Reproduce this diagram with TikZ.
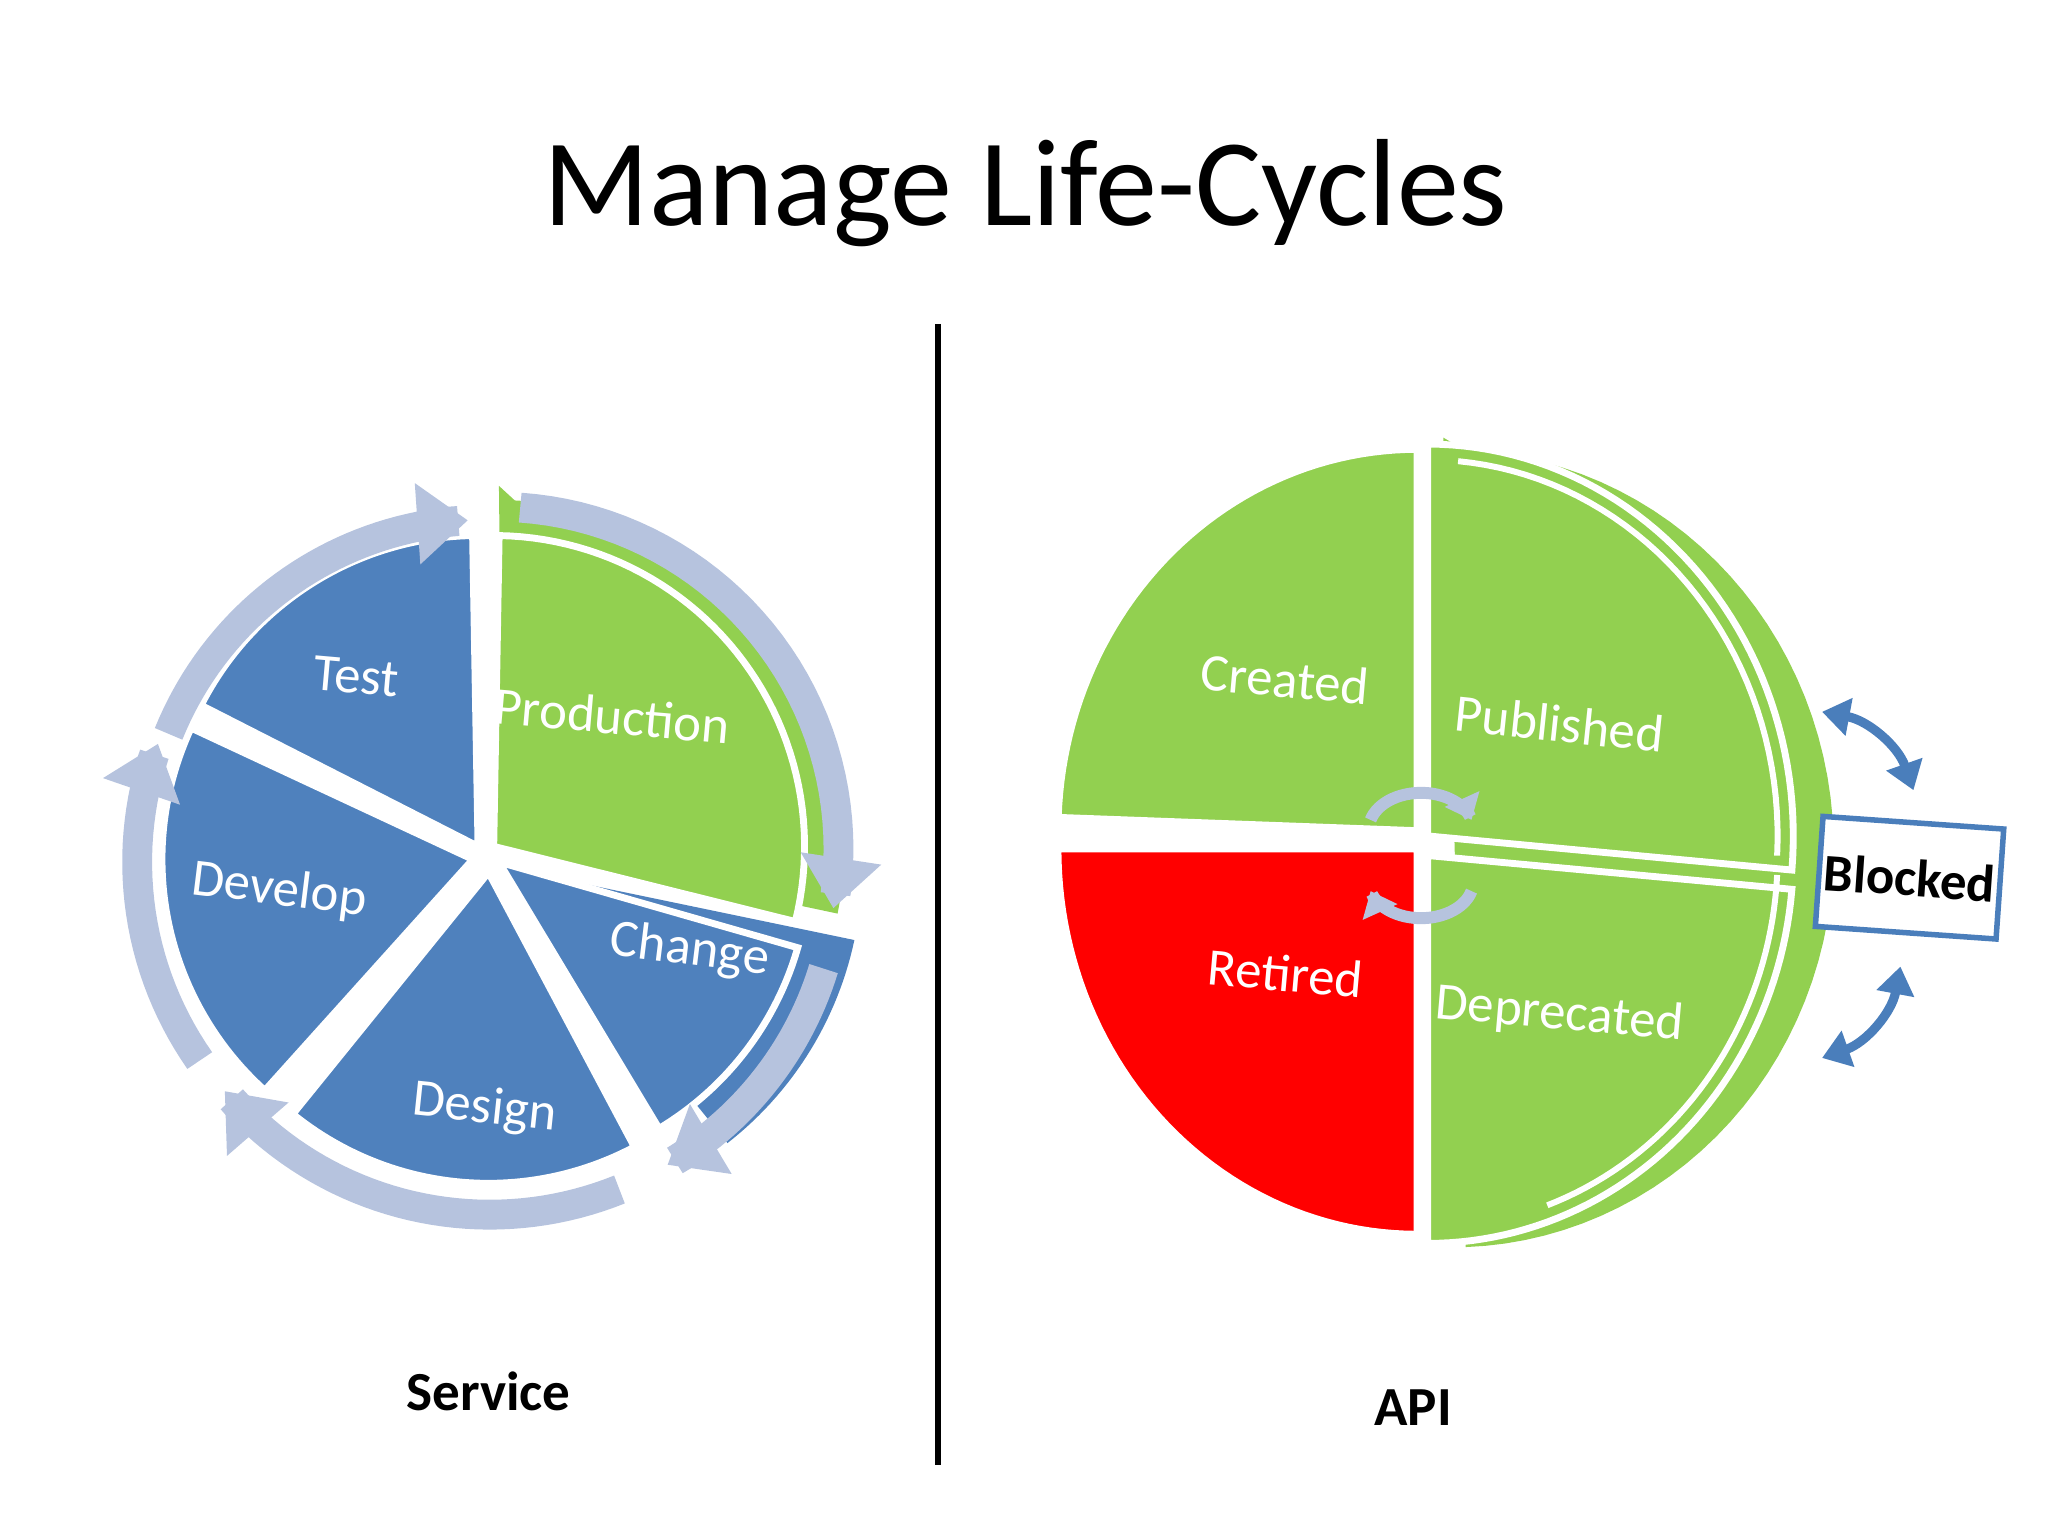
\documentclass[tikz,border=0pt]{standalone}
\usepackage{fontspec}
\setmainfont{Carlito}
\usetikzlibrary{arrows.meta}
\definecolor{sblue}{HTML}{4F81BD}
\definecolor{sgreen}{HTML}{92D050}
\definecolor{sring}{HTML}{B6C3DE}
\definecolor{dblue}{HTML}{4A7EBB}
\tikzset{
  lab/.style={text=white,font=\fontsize{11.5}{13}\selectfont},
  ring/.style={sring,line width=6.5pt,-{Triangle[length=11pt,width=17pt]}},
  small/.style={sring,line width=2.6pt,-{Triangle[length=5pt,width=8pt]}},
  blk/.style={dblue,line width=2pt,{Triangle[length=6pt,width=8pt]}-{Triangle[length=6pt,width=8pt]}},
}
\newcommand{\wedgeS}[6]{% color, cx, cy, r, a1, a2
  \fill[#1,draw=white,line width=1.5pt] (#2,#3) -- plot[domain=#5:#6,samples=50] ({#2+#4*cos(\x)},{#3-#4*sin(\x)}) -- cycle;}
\newcommand{\wedgeE}[7]{% color, cx, cy, rx, ry, a1, a2
  \fill[#1,draw=white,line width=1.5pt] (#2,#3) -- plot[domain=#6:#7,samples=50] ({#2+#4*cos(\x)},{#3-#5*sin(\x)}) -- cycle;}
\begin{document}
\begin{tikzpicture}[x=0.01cm,y=-0.01cm]
\useasboundingbox (0,0) rectangle (1568,1176);
\node (title) at (785,148) {\fontsize{27}{32}\selectfont Manage Life-Cycles};
\draw[line width=1.2pt] (718,248) -- (718,1122);
% ---- Service ----
\fill[sgreen] (382,372) -- plot[domain=88:-12,samples=40] ({385+262*cos(\x)},{645-262*sin(\x)}) -- (385,645) -- cycle;
\fill[sblue] (386,664) -- plot[domain=-12:-52,samples=30] ({392+268*cos(\x)},{664-268*sin(\x)}) -- cycle;
\wedgeS{sgreen}{378}{648}{238}{-14}{89}
\wedgeS{sblue}{366}{648}{238}{91}{153}
\wedgeS{sblue}{362}{658}{238}{155}{228}
\wedgeS{sblue}{374}{668}{238}{231}{298}
\wedgeS{sblue}{382}{660}{238}{301}{344}
\draw[ring] plot[domain=158:93,samples=40] ({372+262*cos(\x)},{660-262*sin(\x)});
\draw[ring] plot[domain=86:-10,samples=40] ({380+262*cos(\x)},{650-262*sin(\x)});
\draw[ring] plot[domain=-17:-60,samples=30] ({380+262*cos(\x)},{665-262*sin(\x)});
\draw[ring] plot[domain=-68:-140,samples=40] ({375+265*cos(\x)},{665-265*sin(\x)});
\draw[ring] plot[domain=-145:-200,samples=30] ({370+265*cos(\x)},{660-265*sin(\x)});
\node[lab,rotate=-5] (test) at (273,518) {Test};
\node[lab,rotate=-5] (prod) at (469,548) {Production};
\node[lab,rotate=-7] (dev) at (214,682) {Develop};
\node[lab,rotate=-7] (chg) at (528,728) {Change};
\node[lab,rotate=-6] (des) at (371,849) {Design};
\node[font=\bfseries\fontsize{12}{14}\selectfont] (svc) at (374,1065) {Service};
% ---- API ----
\fill[sgreen] (1105,335) -- plot[domain=88:-88,samples=60] ({1112+292*cos(\x)},{650-305*sin(\x)}) -- cycle;
\wedgeE{sgreen}{1085}{636}{275}{292}{90}{178}
\wedgeE{sgreen}{1093}{640}{280}{300}{-5}{90}
\wedgeE{red}{1085}{650}{275}{295}{180}{270}
\wedgeE{sgreen}{1093}{655}{280}{297}{270}{355}
\draw[white,line width=1.3pt] plot[domain=85:-3,samples=40] ({1093+268*cos(\x)},{640-288*sin(\x)});
\draw[white,line width=1.3pt] plot[domain=-3:-70,samples=40] ({1093+268*cos(\x)},{655-285*sin(\x)});
\draw[small] plot[domain=165:15,samples=30] ({1088+40*cos(\x)},{635-28*sin(\x)});
\draw[small] plot[domain=-15:-165,samples=30] ({1088+40*cos(\x)},{675-28*sin(\x)});
\node[lab,rotate=-5] (cre) at (984,520) {Created};
\node[lab,rotate=-6] (pub) at (1194,554) {Published};
\node[lab,rotate=-5] (ret) at (984,745) {Retired};
\node[lab,rotate=-5] (depr) at (1194,777) {Deprecated};
\node[draw=dblue,fill=white,line width=1.2pt,minimum width=36pt,minimum height=24pt,rotate=-4,font=\bfseries\fontsize{11.5}{13}\selectfont,inner sep=1pt] (blk) at (1462,672) {Blocked};
\coordinate (b1) at (1395,545); \coordinate (b2) at (1465,605);
\coordinate (b3) at (1455,740); \coordinate (b4) at (1395,810);
\draw[blk] (b1) to[bend left=30] (b2);
\draw[blk] (b3) to[bend left=30] (b4);
\node[font=\bfseries\fontsize{12}{14}\selectfont] (api) at (1082,1078) {API};
\end{tikzpicture}
\end{document}
